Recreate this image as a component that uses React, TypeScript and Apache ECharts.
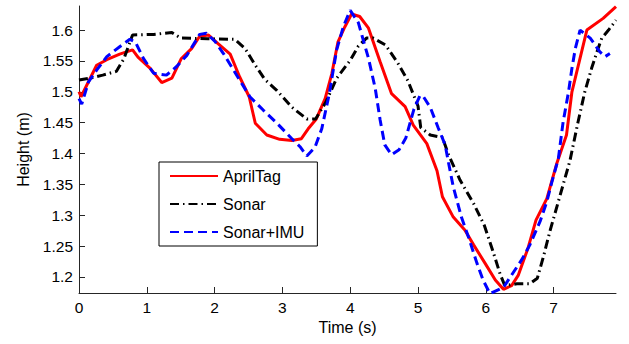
import React, { useEffect, useRef } from "react";
import * as echarts from "echarts";

const aprilTagT = [0, 0.03, 0.26, 0.41, 0.6, 0.79, 0.87, 1.05, 1.22, 1.37, 1.51, 1.66, 1.78, 1.91, 2.05, 2.23, 2.37, 2.51, 2.6, 2.77, 2.96, 3.14, 3.28, 3.38, 3.5, 3.63, 3.73, 3.82, 3.92, 4.02, 4.14, 4.27, 4.44, 4.61, 4.81, 4.93, 5.13, 5.28, 5.36, 5.52, 5.69, 5.82, 5.99, 6.14, 6.26, 6.38, 6.48, 6.62, 6.74, 6.9, 7.05, 7.19, 7.27, 7.49, 7.73, 7.92];
const aprilTagH = [1.5, 1.492, 1.543, 1.552, 1.561, 1.568, 1.556, 1.538, 1.515, 1.522, 1.554, 1.57, 1.59, 1.592, 1.578, 1.561, 1.524, 1.492, 1.449, 1.43, 1.423, 1.421, 1.424, 1.44, 1.456, 1.489, 1.53, 1.581, 1.605, 1.626, 1.622, 1.603, 1.549, 1.497, 1.476, 1.446, 1.416, 1.372, 1.33, 1.297, 1.276, 1.252, 1.222, 1.195, 1.18, 1.186, 1.203, 1.246, 1.292, 1.327, 1.385, 1.43, 1.5, 1.6, 1.619, 1.638];

const sonarT = [0, 0.2, 0.35, 0.55, 0.66, 0.79, 1.1, 1.37, 1.5, 1.9, 2.3, 2.45, 2.6, 2.74, 2.92, 3.14, 3.36, 3.49, 3.64, 3.8, 4.0, 4.12, 4.24, 4.34, 4.52, 4.7, 4.85, 5.0, 5.04, 5.18, 5.36, 5.45, 5.62, 5.82, 5.98, 6.11, 6.21, 6.28, 6.46, 6.65, 6.76, 6.85, 6.95, 7.09, 7.24, 7.36, 7.46, 7.56, 7.64, 7.71, 7.81, 7.92];
const sonarH = [1.519, 1.523, 1.527, 1.533, 1.553, 1.592, 1.593, 1.596, 1.587, 1.586, 1.585, 1.57, 1.543, 1.52, 1.502, 1.475, 1.456, 1.456, 1.483, 1.522, 1.551, 1.574, 1.587, 1.587, 1.576, 1.547, 1.518, 1.477, 1.442, 1.43, 1.426, 1.398, 1.357, 1.319, 1.283, 1.24, 1.205, 1.186, 1.189, 1.189, 1.198, 1.233, 1.276, 1.33, 1.388, 1.451, 1.5, 1.538, 1.565, 1.587, 1.6, 1.616];

const imuT = [0, 0.04, 0.14, 0.26, 0.41, 0.6, 0.75, 0.83, 0.95, 1.1, 1.29, 1.44, 1.59, 1.78, 1.88, 2.01, 2.13, 2.28, 2.52, 2.72, 2.92, 3.14, 3.26, 3.36, 3.48, 3.58, 3.69, 3.8, 3.9, 4.0, 4.12, 4.27, 4.37, 4.44, 4.51, 4.61, 4.72, 4.82, 4.94, 5.03, 5.08, 5.18, 5.3, 5.4, 5.45, 5.52, 5.64, 5.74, 5.87, 5.96, 6.06, 6.26, 6.41, 6.53, 6.65, 6.8, 6.9, 6.97, 7.07, 7.14, 7.22, 7.27, 7.32, 7.39, 7.54, 7.68, 7.76, 7.83];
const imuH = [1.489, 1.48, 1.516, 1.535, 1.557, 1.573, 1.585, 1.581, 1.554, 1.53, 1.527, 1.541, 1.559, 1.593, 1.595, 1.581, 1.562, 1.535, 1.492, 1.47, 1.449, 1.424, 1.411, 1.396, 1.41, 1.44, 1.496, 1.568, 1.606, 1.632, 1.612, 1.554, 1.505, 1.455, 1.414, 1.398, 1.406, 1.425, 1.472, 1.494, 1.492, 1.475, 1.441, 1.414, 1.385, 1.346, 1.297, 1.266, 1.222, 1.195, 1.173, 1.183, 1.208, 1.228, 1.252, 1.29, 1.322, 1.352, 1.392, 1.451, 1.5, 1.538, 1.57, 1.6, 1.587, 1.565, 1.557, 1.562];

const xTicks = [0, 1, 2, 3, 4, 5, 6, 7];
const yTicks = [1.2, 1.25, 1.3, 1.35, 1.4, 1.45, 1.5, 1.55, 1.6];
const legendNames = ["AprilTag", "Sonar", "Sonar+IMU"];

const zip = (t: number[], h: number[]) => t.map((v, i) => [v, h[i]]);

export default function App() {
  const ref = useRef<HTMLDivElement>(null);
  useEffect(() => {
    if (!ref.current) return;
    const chart = echarts.init(ref.current, undefined, { renderer: "svg" });
    const font = "Liberation Sans, Arial, Helvetica, sans-serif";
    const axisColor = "#262626";
    chart.setOption({
      animation: false,
      backgroundColor: "#fff",
      textStyle: { fontFamily: font },
      grid: { left: 79, right: 13, top: 6, bottom: 51, containLabel: false },
      legend: {
        orient: "vertical",
        left: 159,
        top: 162,
        backgroundColor: "#fff",
        borderColor: "#000",
        borderWidth: 1,
        padding: [6, 13, 6, 10],
        itemWidth: 48,
        itemHeight: 14,
        itemGap: 12,
        itemStyle: { opacity: 0 },
        textStyle: { fontSize: 16, color: "#000", fontFamily: font },
        data: legendNames,
      },
      xAxis: {
        type: "value",
        min: 0,
        max: 7.92,
        name: "Time (s)",
        nameLocation: "middle",
        nameGap: 24,
        nameTextStyle: { fontSize: 16, color: "#000", fontFamily: font },
        axisLine: { show: true, onZero: false, lineStyle: { color: axisColor, width: 1 } },
        axisTick: { show: true, inside: true, length: 6, customValues: xTicks, lineStyle: { color: axisColor } },
        axisLabel: { customValues: xTicks, fontSize: 15.5, color: "#000", margin: 6, fontFamily: font },
        splitLine: { show: false },
      },
      yAxis: {
        type: "value",
        min: 1.174,
        max: 1.639,
        name: "Height (m)",
        nameLocation: "middle",
        nameGap: 46,
        nameTextStyle: { fontSize: 16, color: "#000", fontFamily: font },
        axisLine: { show: true, onZero: false, lineStyle: { color: axisColor, width: 1 } },
        axisTick: { show: true, inside: true, length: 6, customValues: yTicks, lineStyle: { color: axisColor } },
        axisLabel: { customValues: yTicks, fontSize: 15.5, color: "#000", margin: 6, fontFamily: font, formatter: (v: number) => String(Math.round(v * 100) / 100) },
        splitLine: { show: false },
      },
      series: [
        {
          name: legendNames[0],
          type: "line",
          data: zip(aprilTagT, aprilTagH),
          showSymbol: false,
          symbol: "none",
          clip: true,
          lineStyle: { color: "#ff0000", width: 3 },
          itemStyle: { color: "#ff0000" },
        },
        {
          name: legendNames[1],
          type: "line",
          data: zip(sonarT, sonarH),
          showSymbol: false,
          symbol: "none",
          clip: true,
          lineStyle: { color: "#000", width: 3, type: [9, 4, 1.5, 4] },
          itemStyle: { color: "#000" },
        },
        {
          name: legendNames[2],
          type: "line",
          data: zip(imuT, imuH),
          showSymbol: false,
          symbol: "none",
          clip: true,
          lineStyle: { color: "#0000ff", width: 3, type: [9, 5] },
          itemStyle: { color: "#0000ff" },
        },
      ],
    });
    return () => chart.dispose();
  }, []);
  return <div ref={ref} style={{ position: "fixed", left: 0, top: 0, width: 629, height: 344 }} />;
}
